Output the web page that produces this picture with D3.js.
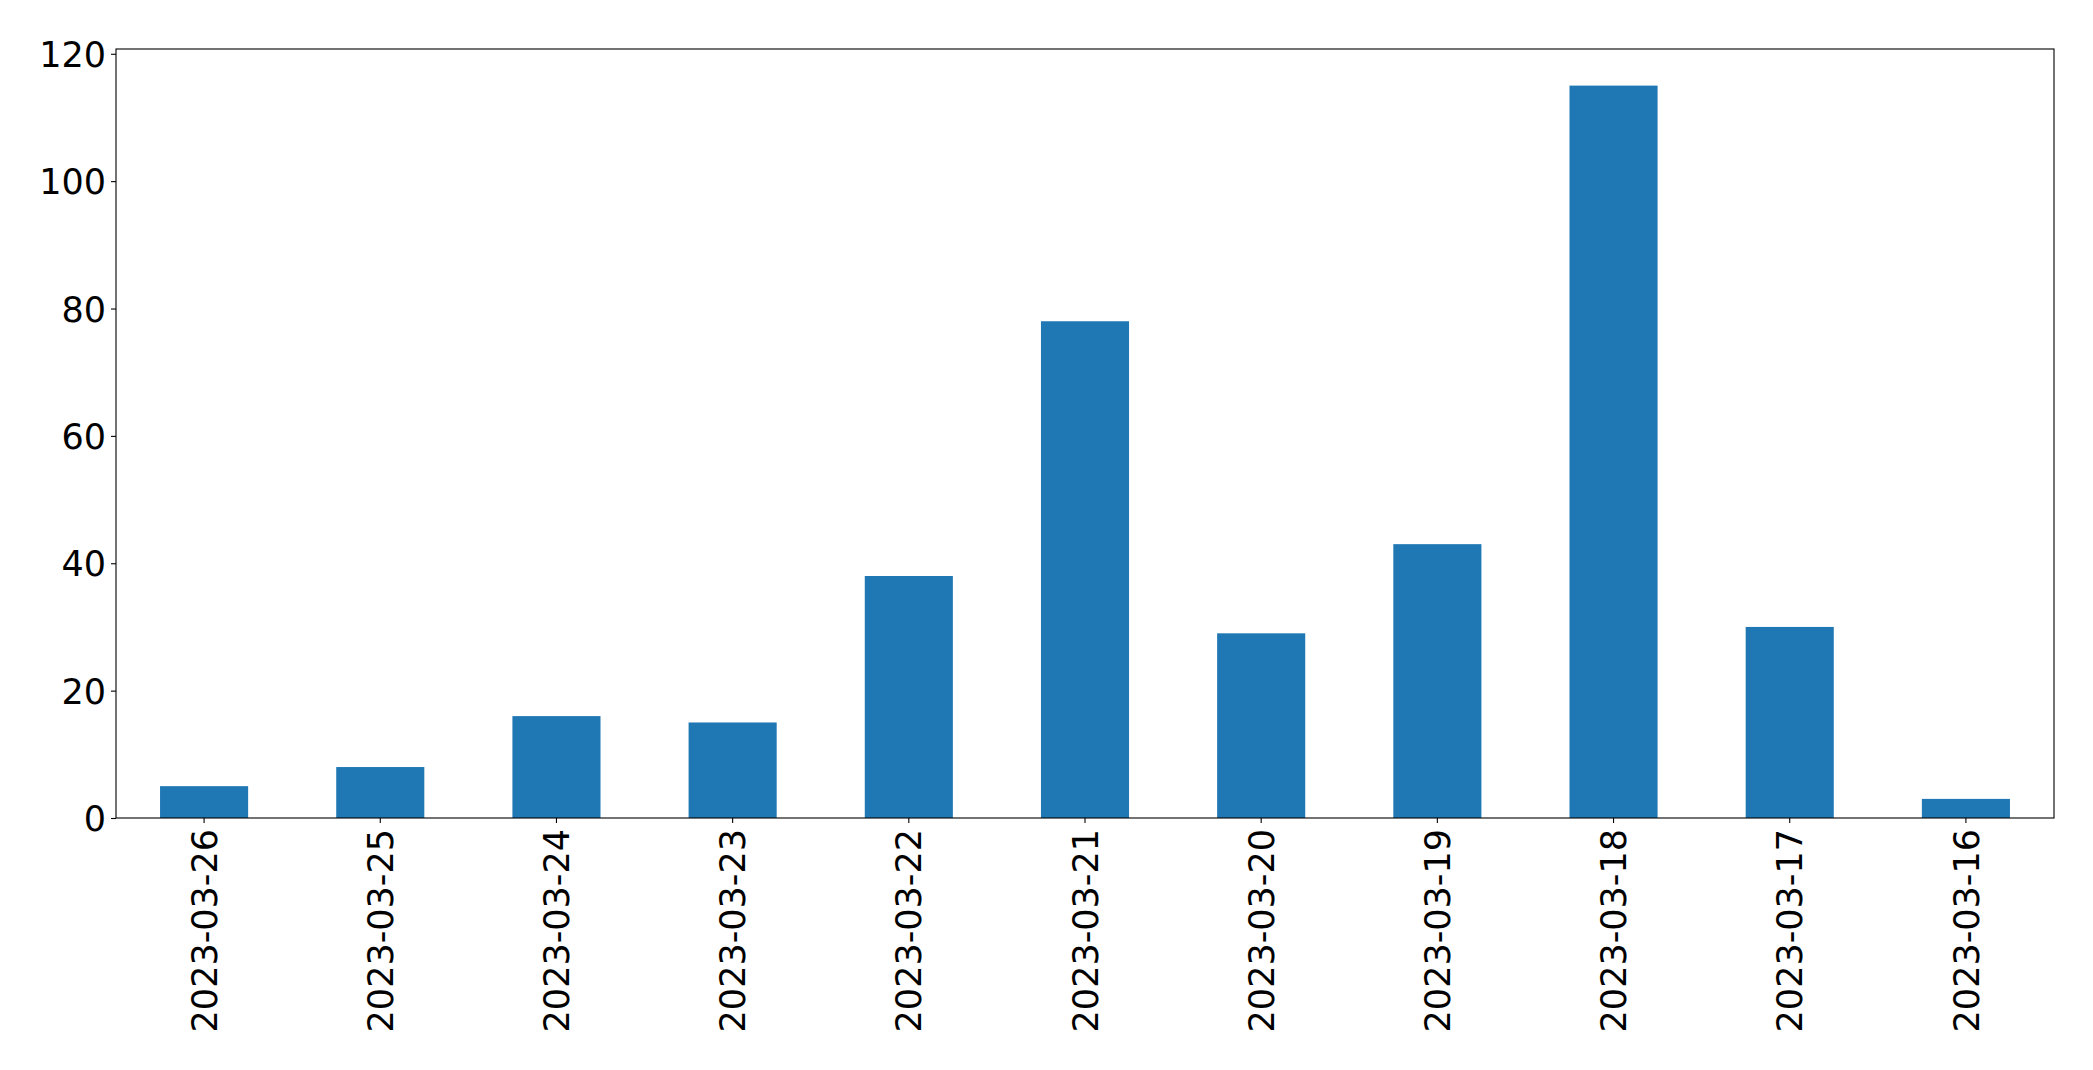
<!DOCTYPE html>
<html>
<head>
<meta charset="utf-8">
<script src="https://cdn.jsdelivr.net/npm/d3@7"></script>
<style>
  body { margin: 0; background: #fff; }
  text { font-family: "DejaVu Sans", sans-serif; fill: #000; }
</style>
</head>
<body>
<svg id="chart" width="2093" height="1070"></svg>
<script>
// dates as shown on the x axis (newest first)
var dates = ["2023-03-26", "2023-03-25", "2023-03-24", "2023-03-23", "2023-03-22",
             "2023-03-21", "2023-03-20", "2023-03-19", "2023-03-18", "2023-03-17", "2023-03-16"]
var counts = [5, 8, 16, 15, 38, 78, 29, 43, 115, 30, 3]
var yTicks = [0, 20, 40, 60, 80, 100, 120]

var margin = {left: 116, right: 39, top: 49, bottom: 252}
var width = 2093 - margin.left - margin.right
var height = 1070 - margin.top - margin.bottom

var svg = d3.select('#chart')
var g = svg.append('g').attr('transform', 'translate(' + margin.left + ',' + margin.top + ')')

var x = d3.scaleBand()
        .domain(dates)
        .range([0, width])
        .paddingInner(0.5)
        .paddingOuter(0.25)

var y = d3.scaleLinear()
        .domain([0, d3.max(counts) * 1.05])
        .range([height, 0])

// bars
g.selectAll('rect.bar')
  .data(dates)
  .enter().append('rect')
  .attr('class', 'bar')
  .attr('x', function(d) { return x(d) })
  .attr('y', function(d, i) { return y(counts[i]) })
  .attr('width', x.bandwidth())
  .attr('height', function(d, i) { return y(0) - y(counts[i]) })
  .style('fill', '#1f77b4')

// y axis
var yAxis = g.append('g')
  .call(d3.axisLeft(y).tickValues(yTicks).tickSize(5).tickPadding(5).tickFormat(d3.format('d')))
yAxis.select('.domain').remove()
yAxis.selectAll('line').attr('stroke', '#000').attr('stroke-width', 1.1)
yAxis.selectAll('text').style('font-size', '35px').attr('dy', '0.36em')

// x axis
var xAxis = g.append('g')
  .attr('transform', 'translate(0,' + height + ')')
  .call(d3.axisBottom(x).tickSize(5).tickPadding(5))
xAxis.select('.domain').remove()
xAxis.selectAll('line').attr('stroke', '#000').attr('stroke-width', 1.1)
xAxis.selectAll('text')
  .style('font-size', '35px')
  .attr('text-anchor', 'end')
  .attr('transform', 'rotate(-90)')
  .attr('x', -11)
  .attr('y', 0)
  .attr('dy', '0.36em')

// frame
g.append('rect')
  .attr('x', 0)
  .attr('y', 0)
  .attr('width', width)
  .attr('height', height)
  .style('fill', 'none')
  .style('stroke', '#000')
  .style('stroke-width', 1.1)
</script>
</body>
</html>
